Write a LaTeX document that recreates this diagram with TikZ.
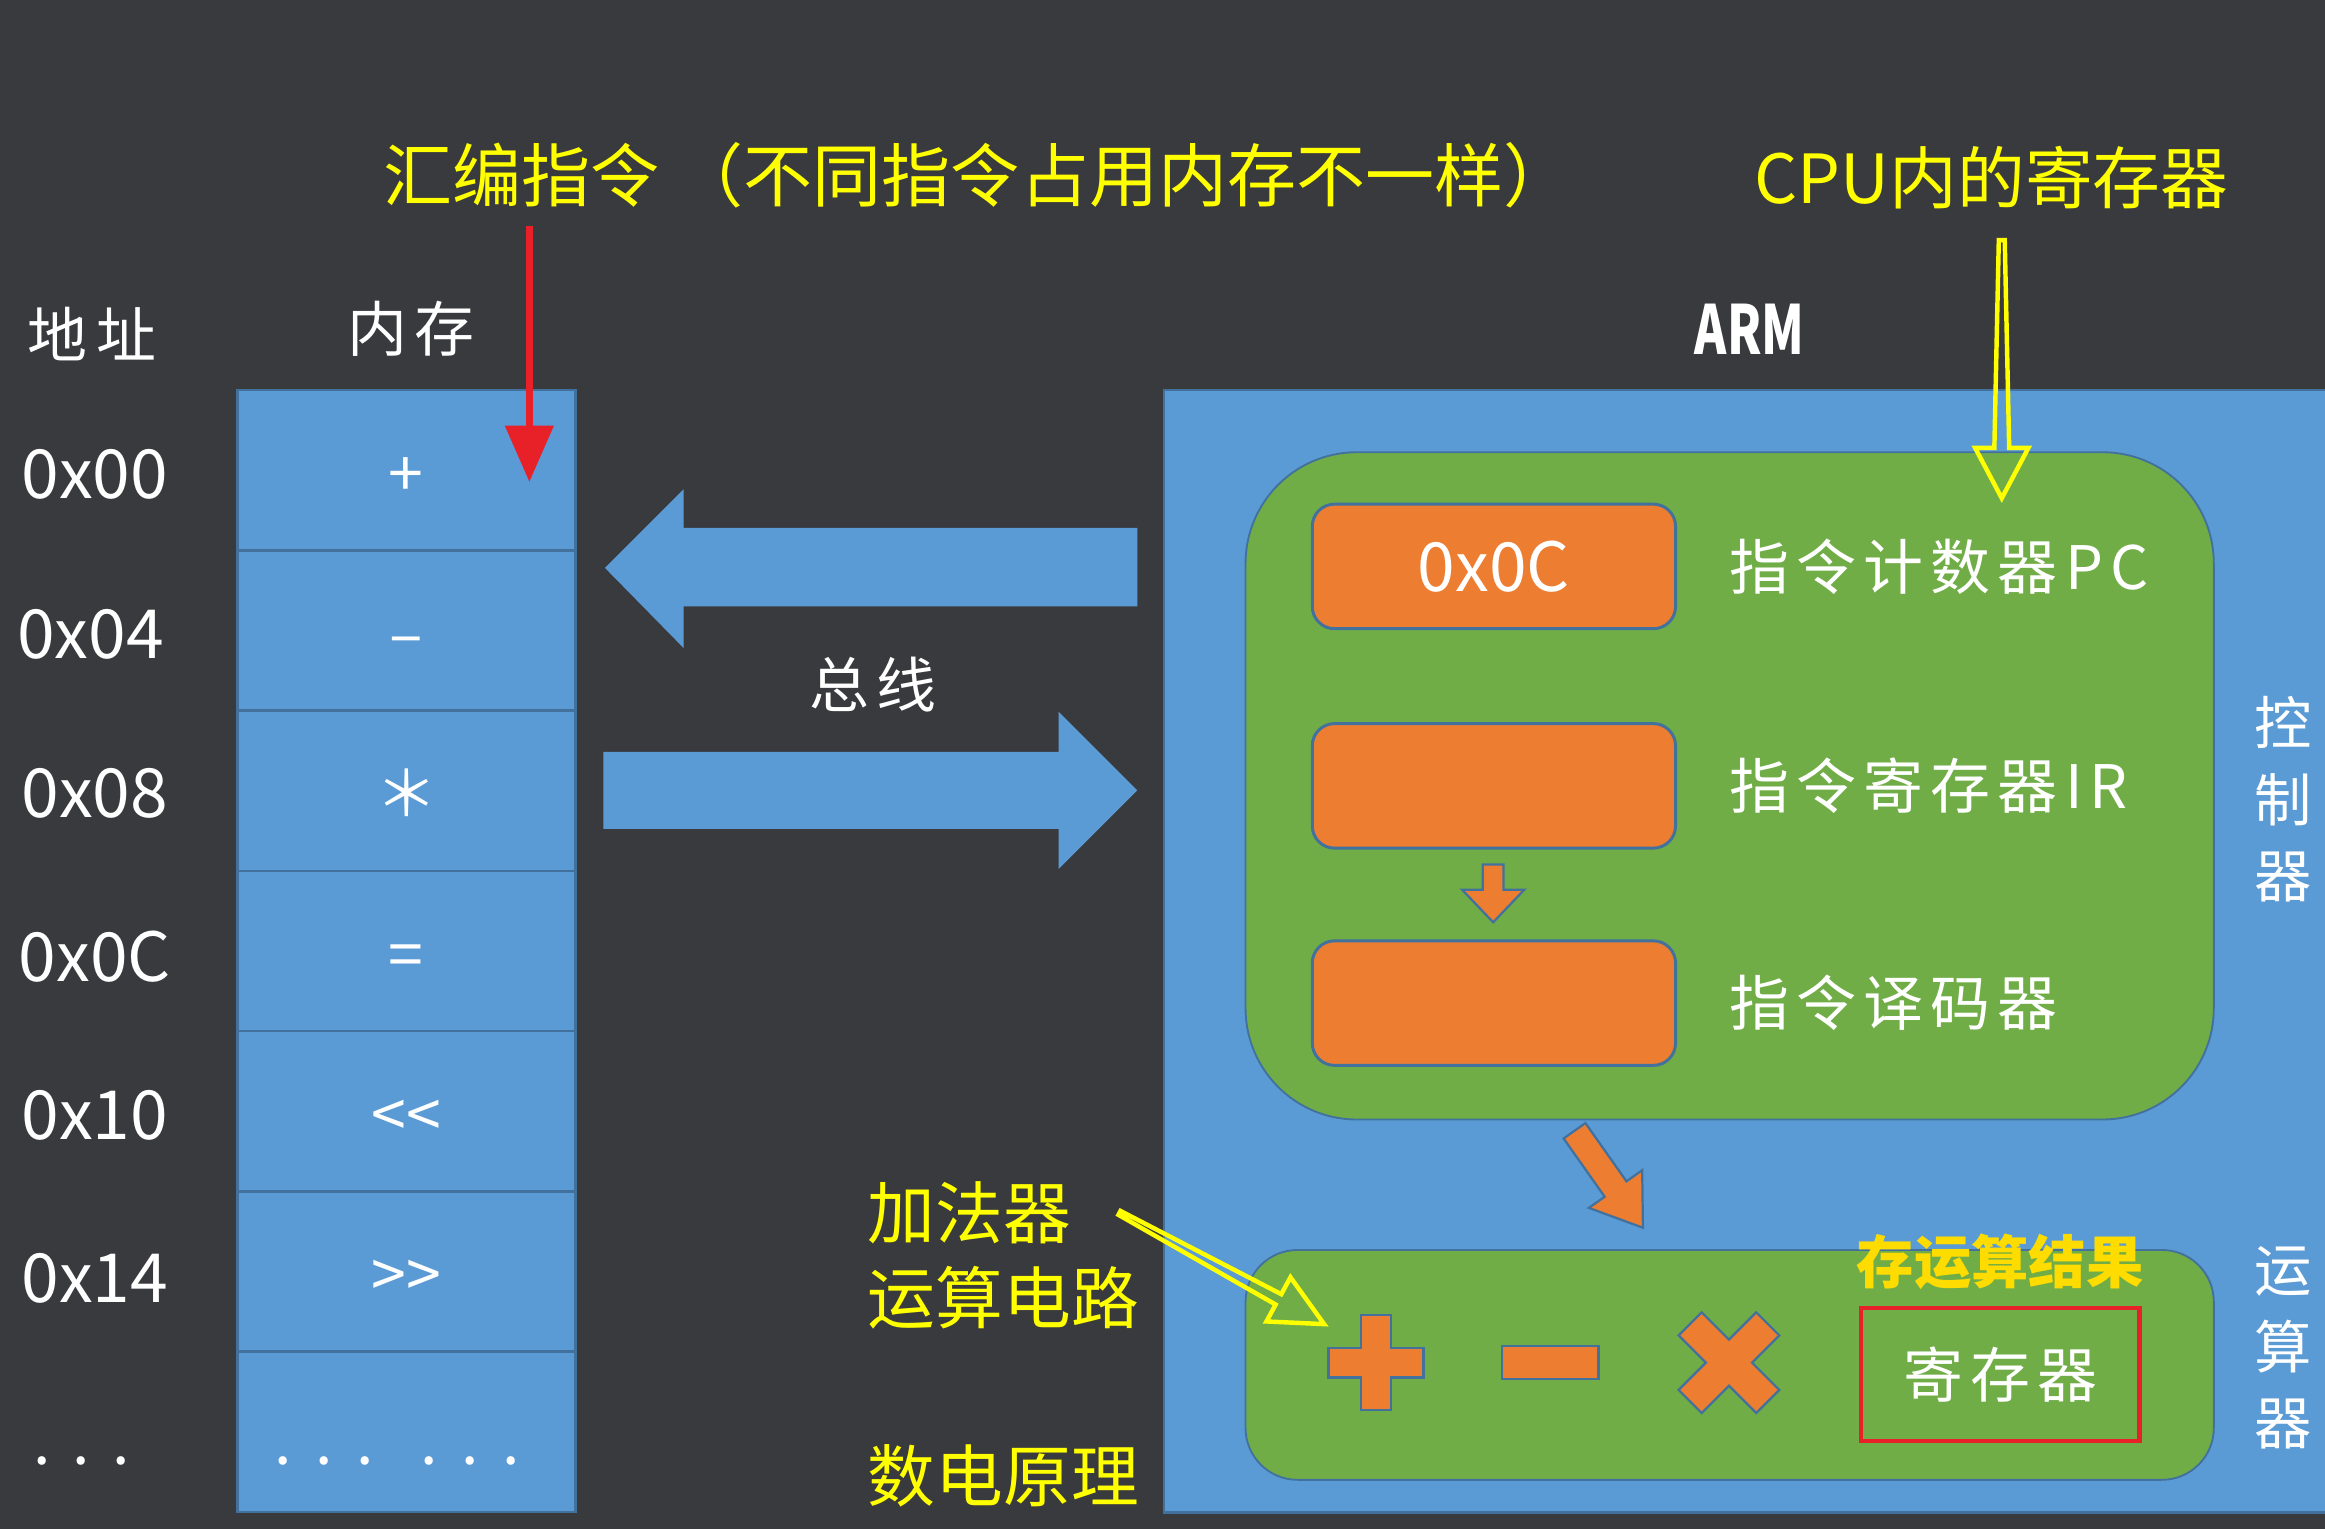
\documentclass[tikz,border=0pt]{standalone}
\usepackage{fontspec}
\usepackage{tikz}
\usetikzlibrary{arrows.meta,positioning,calc}
\newfontfamily\cjk{Noto Sans CJK SC}
\newfontfamily\cjkwide[LetterSpace=12]{Noto Sans CJK SC}
\newfontfamily\cjknarrow[FakeStretch=0.72]{Noto Sans CJK SC}
\definecolor{bgdark}{RGB}{57,58,62}
\definecolor{armblue}{RGB}{91,155,213}
\definecolor{edgeblue}{RGB}{65,113,156}
\definecolor{ctrlgreen}{RGB}{112,173,71}
\definecolor{regorange}{RGB}{237,125,49}
\definecolor{hlyellow}{RGB}{255,255,0}
\definecolor{hlgold}{RGB}{255,220,0}
\definecolor{hlred}{RGB}{232,32,40}

\begin{document}
\begin{tikzpicture}[x=0.2mm, y=-0.2mm,
  every node/.style={font=\cjk, text=white, inner sep=0pt},
  cell/.style={draw=edgeblue, line width=0.35mm, fill=armblue,
               minimum width=45.6mm, minimum height=21.62mm, font=\cjk\fontsize{24}{28}\selectfont,
               text height=20pt, text depth=0pt},
  addr/.style={font=\cjk\fontsize{26}{30}\selectfont},
  wtxt/.style={font=\cjkwide\fontsize{23}{28}\selectfont},
  ytxt/.style={text=hlyellow, font=\cjk\fontsize{26}{30}\selectfont},
  vtxt/.style={align=center, font=\cjk\fontsize{22}{29.5}\selectfont},
  regbox/.style={draw=edgeblue, line width=0.4mm, fill=regorange, rounded corners=3mm,
                 minimum width=49mm, minimum height=16.8mm},
  unitbox/.style={draw=edgeblue, line width=0.25mm, fill=ctrlgreen, minimum width=130.6mm},
  opsign/.style={draw=edgeblue, line width=0.3mm, fill=regorange, line join=miter},
  hollow/.style={draw=hlyellow, line width=0.6mm, line join=miter},
  redarr/.style={draw=hlred, line width=0.9mm, -{Triangle[length=7.6mm, width=6.4mm]}}
]
  \useasboundingbox (0,0) rectangle (1568,1031);
  \clip (0,0) rectangle (1568,1031);
  \fill[bgdark] (0,0) rectangle (1568,1031);

  % memory
  \node[cell] (m1) at (274,317.1) {+};
  \node[cell] (m2) at (274,425.2) {–};
  \node[cell] (m3) at (274,533.3) {＊};
  \node[cell] (m4) at (274,641.4) {=};
  \node[cell] (m5) at (274,749.5) {<{}<};
  \node[cell] (m6) at (274,857.6) {>{}>};
  \node[cell] (m7) at (274,965.7) {};
  \node[font=\cjk\fontsize{24}{28}\selectfont] (m7dots) at (268,985)
    {.\hspace{3.2mm}.\hspace{3.2mm}.\hspace{6.2mm}.\hspace{3.2mm}.\hspace{3.2mm}.};

  \node[addr] (a1) at (64,320) {0x00};
  \node[addr] (a2) at (61,428) {0x04};
  \node[addr] (a3) at (64,535) {0x08};
  \node[addr] (a4) at (64,645) {0x0C};
  \node[addr] (a5) at (64,752) {0x10};
  \node[addr] (a6) at (64,862) {0x14};
  \node[font=\cjk\fontsize{24}{28}\selectfont] (a7) at (55,985) {.\hspace{3mm}.\hspace{3mm}.};

  \node[wtxt] (addrhead) at (62,225) {地\,址};
  \node[wtxt] (memhead) at (277,222) {内存};

  % bus
  \fill[armblue] (408,383) -- (461,330) -- (461,356) -- (767,356) -- (767,409)
    -- (461,409) -- (461,437) -- cycle;
  \fill[armblue] (767,533) -- (714,480) -- (714,507) -- (407,507) -- (407,559)
    -- (714,559) -- (714,586) -- cycle;
  \node[wtxt] (bus) at (589,462) {总线};

  % ARM
  \node[font=\cjknarrow\bfseries\fontsize{26}{30}\selectfont] (armlbl) at (1180,222) {ARM};
  \node[draw=edgeblue, line width=0.3mm, fill=armblue, minimum width=158mm,
        minimum height=151.4mm] (arm) at (1180,641.5) {};
  \node[unitbox, rounded corners=15mm, minimum height=90mm] (ctrl) at (1166.5,530) {};
  \node[unitbox, rounded corners=7mm, minimum height=31mm] (alu) at (1166.5,920.5) {};

  \node[regbox, font=\cjk\fontsize{26}{30}\selectfont] (pc) at (1007.5,382) {0x0C};
  \node[regbox] (ir) at (1007.5,530) {};
  \node[regbox] (dec) at (1007.5,676.5) {};

  \node[wtxt, right=7mm of pc] (pclbl) {指令计数器PC};
  \node[wtxt, right=7mm of ir] (irlbl) {指令寄存器IR};
  \node[wtxt, right=7mm of dec] (declbl) {指令译码器};

  \node[vtxt] (ctrllbl) at (1540,539) {控\\制\\器};
  \node[vtxt] (alulbl) at (1540,909) {运\\算\\器};

  \draw[opsign] (1000,583) -- (1014,583) -- (1014,600) -- (1028,600) -- (1007,622)
    -- (986,600) -- (1000,600) -- cycle;
  \draw[opsign] (1069.2,757.4) -- (1096.9,796.7) -- (1107.5,789.2) -- (1108,828)
    -- (1071.5,814.6) -- (1082.2,807.1) -- (1054.5,767.8) -- cycle;

  % + - x
  \begin{scope}[shift={(928,919)}]
    \draw[opsign] (-10,-32) -- (10,-32) -- (10,-10) -- (32,-10) -- (32,10) -- (10,10)
      -- (10,32) -- (-10,32) -- (-10,10) -- (-32,10) -- (-32,-10) -- (-10,-10) -- cycle;
  \end{scope}
  \draw[opsign] (1013,908) rectangle (1078,930);
  \begin{scope}[shift={(1166,919)}, rotate=45]
    \draw[opsign] (-11,-37) -- (11,-37) -- (11,-11) -- (37,-11) -- (37,11) -- (11,11)
      -- (11,37) -- (-11,37) -- (-11,11) -- (-37,11) -- (-37,-11) -- (-11,-11) -- cycle;
  \end{scope}

  \node[draw=hlred, line width=0.6mm, minimum width=37.6mm, minimum height=18mm, wtxt]
    (reg) at (1349,927) {寄存器};
  \node[above=2mm of reg, text=hlgold, font=\cjk\bfseries\fontsize{22}{26}\selectfont]
    (result) {存运算结果};

  % notes
  \node[ytxt, font=\cjk\fontsize{26.5}{30}\selectfont, anchor=west] (title) at (258,118)
    {汇编指令 （不同指令占用内存不一样）};
  \node[ytxt, anchor=west] (cpureg) at (1183,120) {CPU内的寄存器};
  \node[ytxt, anchor=west] (adder) at (585,818) {加法器};
  \node[ytxt, anchor=west] (circuit) at (585,875) {运算电路};
  \node[ytxt, anchor=west] (digital) at (585,995) {数电原理};

  \coordinate (memtop) at (357,325);
  \draw[redarr, shorten <=2.4mm] (title.south -| memtop) -- (memtop);

  \draw[hollow] (1348,162) -- (1352,162) -- (1355,302) -- (1368,302) -- (1350,336)
    -- (1332,302) -- (1345,302) -- cycle;
  \draw[hollow] (755.7,816.7) -- (864.1,872.8) -- (870.3,861.4) -- (893,893)
    -- (854.1,891.2) -- (860.3,879.8) -- (754.3,819.3) -- cycle;
\end{tikzpicture}
\end{document}
